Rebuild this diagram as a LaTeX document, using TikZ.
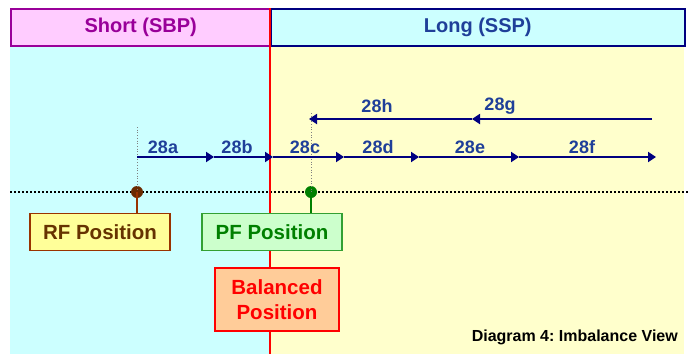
\documentclass[tikz,border=0pt]{standalone}
\usepackage{fontspec}
\setmainfont{Liberation Sans}
\usetikzlibrary{arrows.meta,positioning}
\frenchspacing
\definecolor{bgcyan}{HTML}{CCFFFF}
\definecolor{bgyellow}{HTML}{FFFFCC}
\definecolor{shortfill}{HTML}{FFCCFF}
\definecolor{shortdraw}{HTML}{990099}
\definecolor{longdraw}{HTML}{000080}
\definecolor{longtext}{HTML}{1F3F99}
\definecolor{navy}{HTML}{000080}
\definecolor{lbl}{HTML}{1F3F99}
\definecolor{rffill}{HTML}{FFFF99}
\definecolor{rfdraw}{HTML}{993300}
\definecolor{rftext}{HTML}{663300}
\definecolor{rfdot}{HTML}{6B2A00}
\definecolor{pffill}{HTML}{CCFFCC}
\definecolor{pfdraw}{HTML}{33A033}
\definecolor{pftext}{HTML}{008000}
\definecolor{balfill}{HTML}{FFCC99}
\definecolor{redline}{HTML}{FF0000}
\tikzset{
  hdr/.style={draw, line width=1.5pt, minimum height=37pt, inner sep=0pt, font=\bfseries\fontsize{20}{22}\selectfont},
  seg/.style={navy, line width=1.8pt, -{Triangle[length=8pt,width=10pt]}},
  seglbl/.style={lbl, font=\bfseries\fontsize{18}{20}\selectfont, inner sep=1pt},
  posbox/.style={draw, line width=1.4pt, minimum height=37pt, inner sep=2pt, font=\bfseries\fontsize{20.5}{25}\selectfont, align=center},
  guide/.style={gray, line width=0.7pt, dotted},
  dotc/.style={circle, inner sep=0pt, minimum size=12pt},
}
\begin{document}
\begin{tikzpicture}[x=1pt,y=-1pt]
\useasboundingbox (0,0) rectangle (688,354);
% backgrounds
\fill[bgcyan] (10,46) rectangle (270,354);
\fill[bgyellow] (270,46) rectangle (684,354);
% header
\node[hdr, fill=shortfill, draw=shortdraw, text=shortdraw, minimum width=260pt, anchor=north west] (short) at (10,8) {Short (SBP)};
\node[hdr, fill=bgcyan, draw=longdraw, text=longtext, minimum width=414pt, anchor=north west] (long) at (270,8) {Long (SSP)};
% baseline dotted
\coordinate (bl) at (10,192);
\coordinate (br) at (688,192);
\draw[line width=2pt, dash pattern=on 2pt off 2pt] (bl) -- (br);
% guides
\coordinate (g1top) at (137,127);
\coordinate (g2top) at (311,113);
\node[dotc, fill=rfdot] (rfd) at (137,192) {};
\node[dotc, fill=pftext] (pfd) at (311,192) {};
\draw[guide] (g1top) -- (rfd.center);
\draw[guide] (g2top) -- (pfd.center);
% red line
\coordinate (rtop) at (270,8);
\coordinate (rbot) at (270,354);
\draw[redline, line width=2.5pt] (rtop) -- (rbot);
% lower arrow row
\coordinate (p0) at (137,157);
\coordinate (p1) at (214,157);
\coordinate (p2) at (273,157);
\coordinate (p3) at (344,157);
\coordinate (p4) at (419,157);
\coordinate (p5) at (519,157);
\coordinate (p6) at (656,157);
\draw[seg] (p0) -- (p1);
\draw[seg] (p1) -- (p2);
\draw[seg] (p2) -- (p3);
\draw[seg] (p3) -- (p4);
\draw[seg] (p4) -- (p5);
\draw[seg] (p5) -- (p6);
\node[seglbl] (l28a) at (163,147) {28a};
\node[seglbl] (l28b) at (237,147) {28b};
\node[seglbl] (l28c) at (305,147) {28c};
\node[seglbl] (l28d) at (378,147) {28d};
\node[seglbl] (l28e) at (470,147) {28e};
\node[seglbl] (l28f) at (582,147) {28f};
% upper arrow row
\coordinate (q0) at (652,119);
\coordinate (q1) at (472,119);
\coordinate (q2) at (309,119);
\draw[seg] (q0) -- (q1);
\draw[seg] (q1) -- (q2);
\node[seglbl] (l28h) at (377,106) {28h};
\node[seglbl] (l28g) at (500,106) {28g};
% position boxes
\node[posbox, fill=rffill, draw=rfdraw, text=rftext, minimum width=140pt, anchor=north] (rf) at (100,213) {RF Position};
\node[posbox, fill=pffill, draw=pfdraw, text=pftext, minimum width=140pt, anchor=north] (pf) at (272,213) {PF Position};
\draw[rfdraw, line width=2pt] (rfd.center) -- (rf.north -| rfd);
\draw[pftext, line width=2pt] (pfd.center) -- (pf.north -| pfd);
\node[posbox, fill=balfill, draw=redline, text=redline, minimum width=124pt, minimum height=63pt, line width=1.8pt, anchor=north] (bal) at (277,267) {Balanced\\Position};
% caption
\node[anchor=east, font=\bfseries\fontsize{16}{18}\selectfont, inner sep=0pt] (cap) at (678,337) {Diagram 4: Imbalance View};
\end{tikzpicture}
\end{document}
